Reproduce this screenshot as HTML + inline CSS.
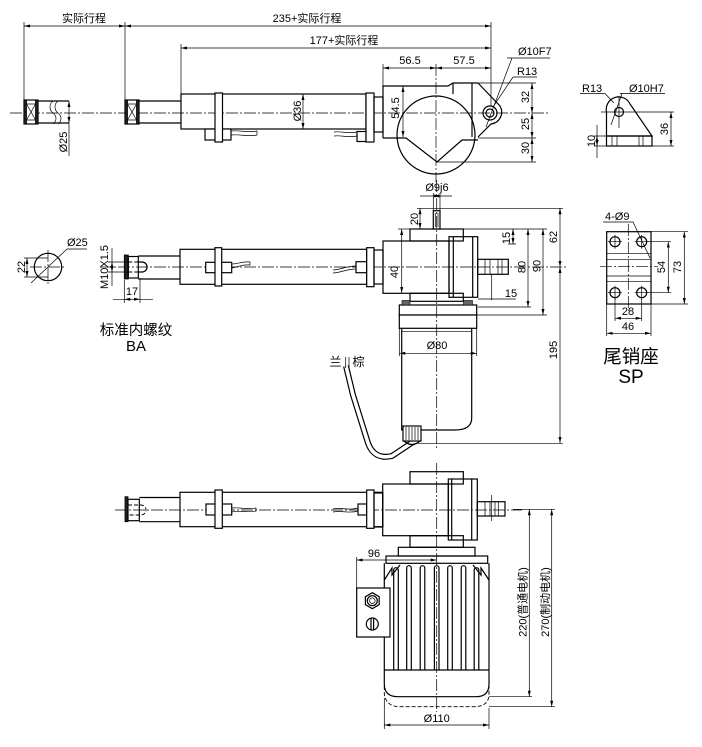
<!DOCTYPE html>
<html><head><meta charset="utf-8"><style>
html,body{margin:0;padding:0;background:#fff;}
svg{display:block;}
text{font-family:"Liberation Sans","Noto Sans CJK SC",sans-serif;font-size:11px;fill:#000;}
.o{stroke:#000;stroke-width:1.2;fill:none;}
.w{stroke:#000;stroke-width:1.2;fill:#fff;}
.t{stroke:#000;stroke-width:0.7;fill:none;}
.d{stroke:#000;stroke-width:0.7;fill:none;marker-start:url(#a);marker-end:url(#a);}
.c{stroke:#000;stroke-width:0.7;fill:none;stroke-dasharray:12 2 2 2;}
.h{stroke:#000;stroke-width:0.9;fill:none;stroke-dasharray:4 2;}
.k{fill:#222;stroke:#000;stroke-width:0.8;}
</style></head><body>
<svg width="702" height="747" viewBox="0 0 702 747" xmlns="http://www.w3.org/2000/svg">
<defs>
<marker id="a" viewBox="0 0 10 10" refX="10" refY="5" markerWidth="6" markerHeight="6" markerUnits="userSpaceOnUse" orient="auto-start-reverse"><path d="M0,2.5 L10,5 L0,7.5z" fill="#000"/></marker>
</defs>

<!-- ================= TOP VIEW ================= -->
<path class="c" d="M10,113 H548"/>
<path class="t" d="M24,22 V100 M125,22 V100 M181,44 V94 M491,22 V106 M383,64 V86"/>
<path class="c" d="M436,64 V182"/>
<path class="d" d="M24,26 H125"/>
<text x="84" y="22" text-anchor="middle">实际行程</text>
<path class="d" d="M125,26 H491"/>
<text x="307" y="22" text-anchor="middle">235+实际行程</text>
<path class="d" d="M181,48 H491"/>
<text x="344" y="44" text-anchor="middle">177+实际行程</text>
<path class="d" d="M383,68 H436"/>
<text x="410" y="64" text-anchor="middle">56.5</text>
<path class="d" d="M436,68 H491"/>
<text x="464" y="64" text-anchor="middle">57.5</text>

<!-- retracted rod end ghost -->
<rect class="w" x="24" y="100" width="14" height="24"/>
<rect class="k" x="24" y="100" width="2.5" height="24"/>
<rect class="k" x="35.5" y="100" width="2.5" height="24"/>
<path class="t" d="M26.5,104 H35.5 M26.5,120 H35.5 M26.5,104 L35.5,120 M35.5,104 L26.5,120"/>
<path class="o" d="M38,101 H69 M38,123 H69"/>
<path class="t" d="M53,101 c-4,3 -4,9 0,12 c4,3 4,8 0,11 M58,101 c-4,3 -4,9 0,12 c4,3 4,8 0,11"/>
<path class="d" d="M69,101 V123"/>
<path class="t" d="M69,123 V156"/>
<text transform="translate(63,142) rotate(-90)" text-anchor="middle" dy="4">Ø25</text>

<!-- extended rod -->
<rect class="w" x="125" y="100" width="14" height="24"/>
<rect class="k" x="125" y="100" width="2.5" height="24"/>
<rect class="k" x="136.5" y="100" width="2.5" height="24"/>
<path class="t" d="M127.5,104 H136.5 M127.5,120 H136.5 M127.5,104 L136.5,120 M136.5,104 L127.5,120"/>
<path class="o" d="M139,101 H181 M139,123 H181"/>
<rect class="o" x="181" y="94" width="185" height="35"/>
<rect class="w" x="205" y="129" width="26" height="11"/>
<rect class="w" x="215" y="93" width="7.5" height="49"/>
<path class="t" d="M231,131 C240,130 248,133 257,131 L257,135 C248,137 240,134 231,135"/>
<path class="d" d="M303,94 V129"/>
<text transform="translate(297,111) rotate(-90)" text-anchor="middle" dy="4">Ø36</text>
<path class="t" d="M334,132 C342,131 348,134 357,132 L357,136 C348,138 342,135 334,136"/>
<rect class="w" x="357" y="131.5" width="9" height="10"/>
<rect class="w" x="366" y="93" width="8" height="49"/>
<rect class="o" x="374" y="97" width="9" height="35"/>

<!-- gearbox + motor end view -->
<path class="o" d="M383,138 V86 H448 L453,83 H478"/>
<path class="o" d="M453,83 V94 M472,83 V137"/>
<path class="o" d="M478,83 L500,106 A12,12 0 0 1 491,124 L478,137"/>
<circle class="o" cx="436" cy="135" r="39"/>
<path class="o" d="M383,138 H406 L437,162 L462,140 H478"/>
<circle class="o" cx="490" cy="113" r="7"/>
<circle class="o" cx="490" cy="113" r="4"/>
<path class="d" d="M403,86 V137"/>
<text transform="translate(395,108) rotate(-90)" text-anchor="middle" dy="4">54.5</text>
<path class="t" d="M478,83 H536 M478,138 H536 M437,162 H536"/>
<path class="d" d="M532,83 V113"/>
<path class="d" d="M532,113 V138"/>
<path class="d" d="M532,138 V162"/>
<text transform="translate(525,97) rotate(-90)" text-anchor="middle" dy="4">32</text>
<text transform="translate(525,124) rotate(-90)" text-anchor="middle" dy="4">25</text>
<text transform="translate(525,148) rotate(-90)" text-anchor="middle" dy="4">30</text>
<text x="518" y="55">Ø10F7</text>
<path class="t" d="M507,58 H550 M512,58 L486,127"/>
<text x="517" y="75">R13</text>
<path class="t" d="M513,77 H537 M513,77 L493,107"/>

<!-- ================= TOP RIGHT DETAIL ================= -->
<text x="582" y="92">R13</text>
<text x="629" y="92">Ø10H7</text>
<path class="t" d="M580,93.5 H605 M620,93.5 H665 M605,93.5 L614,103 M622,93.5 L611,125"/>
<path class="o" d="M606.5,136 V112 A12.5,12.5 0 0 1 630,104 L652,136 Z"/>
<rect class="o" x="606.5" y="136" width="45.5" height="10"/>
<path class="t" d="M612,136 V146 M617,136 V146 M639,136 V146 M643,136 V146"/>
<circle class="o" cx="619" cy="112" r="4.5"/>
<path class="t" d="M601,112 H674 M619,96 V128 M652,146 H674 M594,136 H606 M594,146 H606"/>
<path class="d" d="M671,112 V146"/>
<text transform="translate(664,129) rotate(-90)" text-anchor="middle" dy="4">36</text>
<path class="t" d="M597,125 V158"/>
<path class="d" d="M597,136 V146"/>
<text transform="translate(591,141) rotate(-90)" text-anchor="middle" dy="4">10</text>

<!-- ================= MIDDLE VIEW ================= -->
<path class="c" d="M100,267 H568"/>
<!-- BA detail circle -->
<circle class="o" cx="48" cy="267" r="13.7"/>
<path class="c" d="M30,267 H66 M48,250 V286"/>
<path class="t" d="M24,258 H48 M24,277 H48"/>
<path class="d" d="M27,258 V277"/>
<text transform="translate(21,267) rotate(-90)" text-anchor="middle" dy="4">22</text>
<path class="t" d="M31,283 L67,249 H87"/>
<text x="67" y="246">Ø25</text>

<!-- rod end -->
<rect class="k" x="124.3" y="255" width="4" height="24"/>
<rect class="o" x="128.3" y="256.5" width="10" height="21.5"/>
<path class="o" d="M138,262 H142 A5,5 0 0 1 142,272 H138"/>
<path class="h" d="M128.3,262 H138 M128.3,272 H138"/>
<path class="t" d="M108,262 H128 M108,272 H128"/>
<path class="d" d="M112,262 V272"/>
<path class="t" d="M112,248 V262 M112,272 V286"/>
<text transform="translate(104,267) rotate(-90)" text-anchor="middle" dy="4">M10X1.5</text>
<path class="t" d="M124.3,280 V303 M140,278 V303"/>
<path class="t" d="M113,299.3 H124.3 M140,299.3 H153"/>
<path class="d" d="M124.3,299.3 H140"/>
<text x="132" y="295" text-anchor="middle">17</text>
<text x="136" y="335" text-anchor="middle" style="font-size:14.5px">标准内螺纹</text>
<text x="136" y="351" text-anchor="middle" style="font-size:15px">BA</text>

<path class="o" d="M138.3,256 H180 M138.3,279 H180"/>
<rect class="o" x="180" y="249.3" width="186.7" height="35"/>
<rect class="w" x="205.7" y="262.3" width="26" height="10.4"/>
<rect class="w" x="215" y="247.7" width="6.7" height="38.3"/>
<path class="t" d="M231.7,264 C238,264 243,261 250,262 L250,265 C243,264 238,267 231.7,268"/>
<path class="t" d="M333,270 C340,270 346,266 356,266 L356,269 C346,269 340,273 333,273"/>
<rect class="w" x="356" y="261.7" width="10.7" height="11"/>
<rect class="w" x="366.7" y="247.7" width="7.3" height="39"/>
<rect class="o" x="374" y="250" width="9" height="34"/>

<!-- gearbox -->
<rect class="o" x="383" y="241" width="66" height="52.3"/>
<rect class="o" x="410" y="229" width="53.3" height="12"/>
<rect class="o" x="410" y="293.3" width="53.3" height="8"/>
<rect class="o" x="449" y="236.7" width="28.7" height="60.6"/>
<path class="o" d="M453.3,236.7 V297.3 M472.7,236.7 V297.3"/>
<rect class="o" x="477.7" y="259.3" width="30.6" height="15"/>
<path class="t" d="M485,259.3 V274.3 M490,259.3 V274.3 M498,259.3 V274.3 M502,259.3 V274.3"/>
<path class="t" d="M491.7,274.3 V300 M478,299 H516"/>
<text x="511" y="297" text-anchor="middle">15</text>
<!-- top shaft -->
<rect class="o" x="433.3" y="210.7" width="6.7" height="18.3"/>
<path class="t" d="M435.3,212.7 V227 M438,212.7 V227"/>
<path class="t" d="M433.3,193 V210 M440,193 V210 M420,196 H433.3 M440,196 H452"/>
<path class="d" d="M433.3,196 H440"/>
<text x="437" y="191" text-anchor="middle">Ø9j6</text>
<path class="t" d="M417,208.3 H563 M410,229 H417"/>
<path class="d" d="M420,208.3 V229"/>
<text transform="translate(414,219) rotate(-90)" text-anchor="middle" dy="4">20</text>
<path class="t" d="M398,229 H410"/>
<path class="d" d="M401.7,229 V293"/>
<text transform="translate(394,272) rotate(-90)" text-anchor="middle" dy="4">40</text>

<!-- right dims middle -->
<path class="t" d="M463.3,229 H547 M477.7,307 H531 M476.7,315 H547 M508,244 H516"/>
<path class="d" d="M513,229 V244"/>
<text transform="translate(506,238) rotate(-90)" text-anchor="middle" dy="4">15</text>
<path class="d" d="M528,229 V307"/>
<text transform="translate(521.5,267) rotate(-90)" text-anchor="middle" dy="4">80</text>
<path class="d" d="M543,229 V315"/>
<text transform="translate(536.5,266) rotate(-90)" text-anchor="middle" dy="4">90</text>
<path class="d" d="M560,208.3 V267"/>
<text transform="translate(553,237) rotate(-90)" text-anchor="middle" dy="4">62</text>
<path class="d" d="M560,267 V443"/>
<text transform="translate(553,350) rotate(-90)" text-anchor="middle" dy="4">195</text>
<path class="t" d="M417,443.3 H563"/>

<!-- motor (middle) -->
<rect class="w" x="399.3" y="305" width="77.4" height="10"/>
<rect x="402" y="300.5" width="8" height="4.5" fill="#666" stroke="#000" stroke-width="0.6"/>
<rect x="463.5" y="300.5" width="9" height="4.5" fill="#666" stroke="#000" stroke-width="0.6"/>
<rect class="w" x="399.3" y="315" width="77.4" height="13.3"/>
<path class="o" d="M401.7,328.3 V430 H455 Q471.7,430 471.7,418 V328.3"/>
<path class="t" d="M401.7,331.7 H471.7 M399.3,328 V356 M476.7,328 V356"/>
<path class="d" d="M399.3,353.3 H476.7"/>
<text x="437" y="349" text-anchor="middle">Ø80</text>
<!-- cable -->
<path d="M346,366 L353,395 L368,443 Q374,460 392,456 L413,442" stroke="#000" stroke-width="6" fill="none"/>
<path d="M346,366 L353,395 L368,443 Q374,460 392,456 L413,442" stroke="#fff" stroke-width="3.6" fill="none"/>
<path class="t" d="M345.7,357 V368 M349,357 V368"/>
<text x="335.5" y="366" text-anchor="middle" style="font-size:12px">兰</text>
<text x="358.5" y="366" text-anchor="middle" style="font-size:12px">棕</text>
<rect class="w" x="403" y="426" width="18" height="15"/>
<path class="t" d="M406,427 V440 M409,427 V440 M412,427 V440 M415,427 V440 M418,427 V440"/>
<path class="o" d="M404,441 Q412,448 420,441"/>
<path class="c" d="M436.7,180 V448"/>

<!-- ================= SP DETAIL ================= -->
<rect class="o" x="606.7" y="231.7" width="44.3" height="72.3"/>
<path class="t" d="M606.7,253.3 H651 M606.7,259.3 H651 M606.7,276 H651 M606.7,281.7 H651"/>
<path class="c" d="M600,266.7 H658 M628.3,224 V311"/>
<circle class="o" cx="615" cy="241.7" r="5"/>
<circle class="o" cx="641.7" cy="241.7" r="5"/>
<circle class="o" cx="615" cy="292.7" r="5"/>
<circle class="o" cx="641.7" cy="292.7" r="5"/>
<path class="t" d="M608,241.7 H622 M615,234.7 V248.7 M634.7,241.7 H648.7 M641.7,234.7 V248.7 M608,292.7 H622 M615,285.7 V299.7 M634.7,292.7 H648.7 M641.7,285.7 V299.7"/>
<text x="605" y="220">4-Ø9</text>
<path class="t" d="M603,222 H633 L650,258"/>
<path class="t" d="M647,241.7 H671 M647,292.7 H671 M651,231.7 H688 M651,304 H688"/>
<path class="d" d="M668.3,241.7 V292.7"/>
<text transform="translate(661,267) rotate(-90)" text-anchor="middle" dy="4">54</text>
<path class="d" d="M684.3,231.7 V304"/>
<text transform="translate(677,267) rotate(-90)" text-anchor="middle" dy="4">73</text>
<path class="t" d="M615,298 V321 M641.7,298 V321 M606.7,304 V336 M651,304 V336"/>
<path class="d" d="M615,318.3 H641.7"/>
<text x="628" y="315" text-anchor="middle">28</text>
<path class="d" d="M606.7,333.3 H651"/>
<text x="628" y="330" text-anchor="middle">46</text>
<text x="631" y="363" text-anchor="middle" style="font-size:18.5px">尾销座</text>
<text x="631" y="383" text-anchor="middle" style="font-size:19px">SP</text>

<!-- ================= BOTTOM VIEW ================= -->
<path class="c" d="M115,510 H522"/>
<rect class="k" x="125" y="496.7" width="3" height="25"/>
<rect class="o" x="128" y="499.3" width="11.3" height="21.4"/>
<path class="h" d="M128,505 H141 A5,5 0 0 1 141,515 H128"/>
<path class="o" d="M139.3,497.5 H180 M139.3,521.7 H180"/>
<rect class="o" x="180" y="492.3" width="202.7" height="34.4"/>
<rect class="w" x="206" y="504" width="25.7" height="11"/>
<rect class="w" x="215" y="490" width="7.3" height="38.3"/>
<path class="t" d="M231.7,508 C240,507 246,510 256,508 L256,511 C246,513 240,510 231.7,512"/>
<path class="t" d="M333,509 C342,507 348,511 358,508 L358,511 C348,514 342,510 333,512"/>
<rect class="w" x="358" y="504" width="8.7" height="11"/>
<rect class="w" x="366.7" y="490" width="7.3" height="38.3"/>
<rect class="o" x="374" y="493" width="8.7" height="34"/>
<!-- gearbox bottom -->
<rect class="o" x="382.7" y="484" width="65.6" height="51.7"/>
<rect class="o" x="410" y="471.7" width="53.3" height="12.3"/>
<rect class="o" x="410" y="535.7" width="53.3" height="11.6"/>
<rect class="o" x="448.3" y="479" width="29" height="61"/>
<path class="o" d="M451.7,479 V540 M471.7,479 V540"/>
<rect class="o" x="477.3" y="501.7" width="27.7" height="14.3"/>
<path class="t" d="M485,501.7 V516 M490,501.7 V516 M495,501.7 V516 M498.3,501.7 V516 M491.7,495 V521"/>
<!-- motor flange -->
<rect class="o" x="398.3" y="547.3" width="76.7" height="8.7"/>
<rect class="o" x="386" y="556" width="101.7" height="7.3"/>
<!-- fins -->
<path class="o" d="M384.3,563.3 V670 M489,563.3 V670 M384.3,670 H489"/>
<path class="o" d="M384.3,580 L392,568 L392,575 L400,565 M489,580 L481,568 L481,575 L473,565"/>
<path class="o" d="M393.7,670 V570 A2.3,2.3 0 0 1 398.3,570 V670 M406.7,670 V568 A2.3,2.3 0 0 1 411.3,568 V670 M420.2,670 V568 A2.3,2.3 0 0 1 424.8,568 V670 M434.4,670 V568 A2.3,2.3 0 0 1 439,568 V670 M447.7,670 V568 A2.3,2.3 0 0 1 452.3,568 V670 M461.2,670 V568 A2.3,2.3 0 0 1 465.8,568 V670 M474.2,670 V570 A2.3,2.3 0 0 1 478.8,570 V670"/>
<!-- end caps -->
<path class="o" d="M384.3,670 V684 Q384.3,696.7 398,696.7 H476 Q489,696.7 489,684 V670"/>
<path class="h" d="M384.3,686 V694 Q386,706.7 400,706.7 H474 Q489,706.7 489,694 V686"/>
<!-- terminal box -->
<rect class="w" x="356.7" y="588" width="33.3" height="49"/>
<polygon class="o" points="372.3,592.7 379.2,596.7 379.2,604.7 372.3,608.7 365.4,604.7 365.4,596.7"/>
<circle class="o" cx="372.3" cy="600.7" r="5"/>
<circle class="t" cx="372.3" cy="600.7" r="2.8"/>
<circle class="o" cx="372.3" cy="624" r="6"/>
<path class="o" d="M371,618.5 V629.5 M373.6,618.5 V629.5"/>
<path class="t" d="M356.7,557 V588"/>
<path class="d" d="M356.7,560 H436.7"/>
<text x="374" y="557" text-anchor="middle">96</text>
<path class="c" d="M436.7,463 V712"/>
<!-- right dims bottom -->
<path class="t" d="M513,509.3 H555 M489,696.7 H532 M489,706.7 H555"/>
<path class="d" d="M529.3,509.3 V696.7"/>
<path class="d" d="M551.7,509.3 V706.7"/>
<text transform="translate(522.5,602) rotate(-90)" text-anchor="middle" dy="4">220(普通电机)</text>
<text transform="translate(545,602) rotate(-90)" text-anchor="middle" dy="4">270(制动电机)</text>
<path class="t" d="M384.3,698 V729 M489,708 V729"/>
<path class="d" d="M384.3,725 H489"/>
<text x="436.7" y="722" text-anchor="middle">Ø110</text>
</svg>
</body></html>
